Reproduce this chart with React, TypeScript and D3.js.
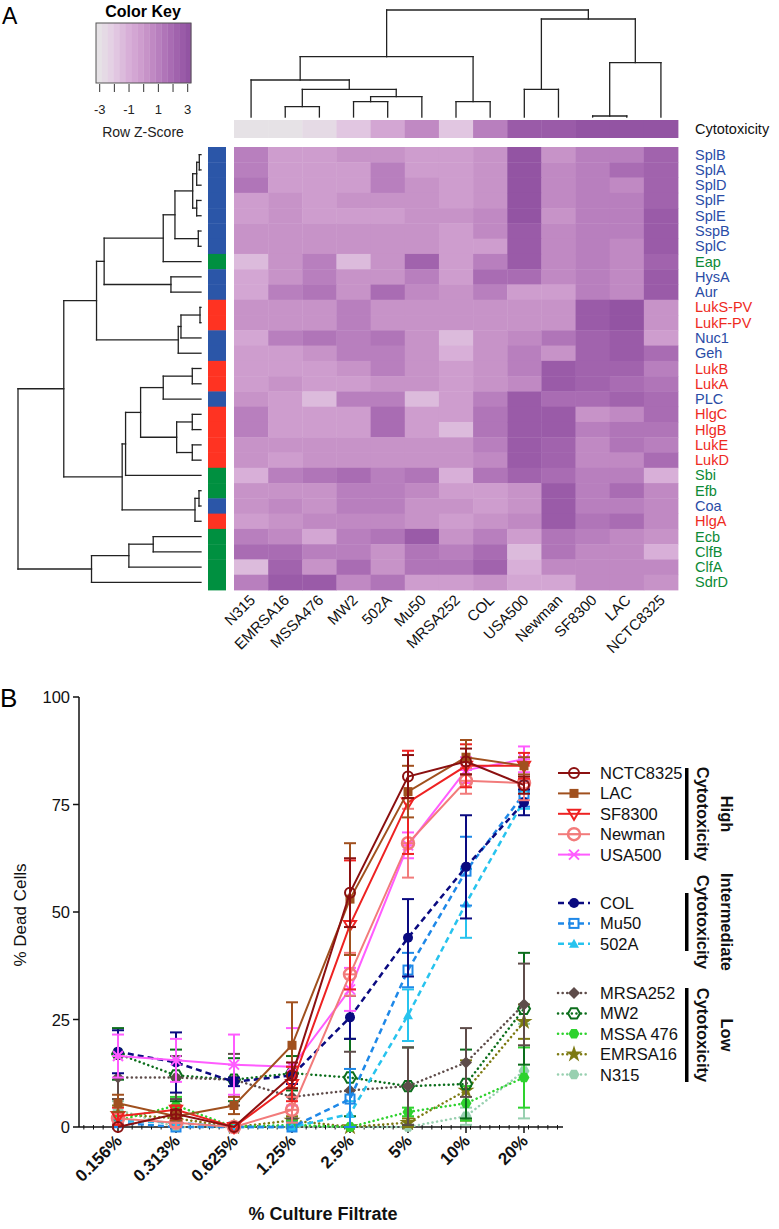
import { useEffect, useRef } from "react";
import * as d3 from "d3";

const FONT = "'Liberation Sans', Arial, sans-serif";

// ---------- Panel A data ----------
const STRAINS = ["N315", "EMRSA16", "MSSA476", "MW2", "502A", "Mu50", "MRSA252", "COL", "USA500", "Newman", "SF8300", "LAC", "NCTC8325"];
const CYTOTOXICITY = [-3, -3, -2.6, -1.7, -0.4, 0.4, -1.7, 1.0, 2.4, 2.4, 2.8, 2.8, 2.8];

const GENES = ["SplB", "SplA", "SplD", "SplF", "SplE", "SspB", "SplC", "Eap", "HysA", "Aur", "LukS-PV", "LukF-PV", "Nuc1", "Geh", "LukB", "LukA", "PLC", "HlgC", "HlgB", "LukE", "LukD", "Sbi", "Efb", "Coa", "HlgA", "Ecb", "ClfB", "ClfA", "SdrD"];
// b = enzyme (blue), r = toxin (red), g = immune/adhesion (green)
const GENE_CLASS = ["b", "b", "b", "b", "b", "b", "b", "g", "b", "b", "r", "r", "b", "b", "r", "r", "b", "r", "r", "r", "r", "g", "g", "b", "r", "g", "g", "g", "g"];

const Z_SCORES = [
  [0.8, -0.3, -0.3, 0.2, 0.2, -0.3, -0.3, 0.3, 2.8, 0.3, 1, 1, 2.2],
  [0.8, -0.3, -0.3, -0.3, 0.8, -0.3, -0.3, 0.3, 2.8, 0.7, 1, 1.6, 2.2],
  [1.3, -0.3, -0.3, -0.3, 0.8, 0.2, -0.3, 0.3, 2.8, 0.7, 1, 0.4, 2.2],
  [-0.3, 0.2, -0.3, 0.2, 0.2, 0.2, -0.3, 0.3, 2.8, 0.7, 1, 1, 2],
  [-0.3, 0.2, -0.3, -0.3, -0.3, 0.2, 0.3, 0.6, 2.8, 0.3, 1, 1, 2.6],
  [0.2, 0.2, 0.2, 0.2, 0.2, 0.2, -0.3, 0.6, 2.4, 0.5, 0.8, 0.8, 2.6],
  [0.2, 0.2, 0.2, 0.2, 0.2, 0.2, -0.3, -0.1, 2.6, 0.5, 1, 0.7, 2.6],
  [-1.3, 0.3, 1, -1.2, 0.3, 2, -0.3, 1, 2.6, 0.7, 1, 0.7, 2],
  [-0.4, 0, 1, 0.3, 0, 1, -0.3, 1.8, 1.5, 0.5, 1, 0.7, 2.6],
  [-0.4, 1, 1.2, 0.3, 1.8, 0.5, 0.3, 1, -0.3, -0.3, 0.8, 0.7, 2.6],
  [0.3, 0.3, 0.3, 0.8, 0.3, 0.3, 0.3, 0.3, 0.3, 0.3, 2.6, 2.8, 0.3],
  [0.3, 0.3, 0.3, 0.8, 0.3, 0.3, 0.3, 0.3, 0.3, 0.3, 2.6, 2.8, 0.3],
  [-0.4, 0.9, 1.3, 0.9, 1.2, 0.3, -1.3, 0.3, 0.5, 1.2, 2.2, 2.6, -0.3],
  [-0.3, -0.3, 0.3, 0.9, 0.9, 0.3, -0.8, 0, 1, 0.3, 2.2, 2.4, 1.5],
  [-0.3, -0.3, -0.3, 0.3, 0.9, 0.3, -0.3, 0.3, 1, 2.6, 2, 2, 1],
  [-0.3, 0.3, -0.3, -0.3, 0.3, 0.3, -0.3, 0.3, 0.7, 2.6, 2, 1.8, 1.2],
  [0.3, -0.3, -1.2, 0.9, 0.9, -1.2, -0.3, 1, 2.6, 1.8, 1.8, 2.2, 1.5],
  [1, -0.3, -0.3, -0.3, 1.5, -0.3, -0.3, 1.2, 2.6, 2.4, 0, 0.4, 1.8],
  [1, -0.3, -0.3, -0.3, 1.5, -0.3, -1.2, 1.2, 2.6, 2.4, 1, 1.4, 1.4],
  [0.3, 0.3, 0.3, 0.3, 0.3, 0.3, 0.3, 1, 2.6, 2, 0.7, 1.2, 1],
  [0.3, -0.3, 0.3, 0.3, 0.3, 0.3, 0.3, 0.5, 2.6, 2, 0.7, 0.7, 1.6],
  [-1, 0.9, 1.3, 1.7, 0.8, 1.2, -1, 1.4, 2.2, 1.8, 0.8, 1, -0.8],
  [0.3, 0.3, 0.3, 0.8, 0.8, 0.6, -0.3, -0.2, 0, 2.6, 1, 1.5, 0.5],
  [0.3, 0.6, 0.3, 0.8, 0.8, 0.3, 0.3, -0.2, 0, 2.6, 1, 1, 0.5],
  [-0.2, 0.3, 0.6, 0.6, 0.6, 0.3, -0.3, 0.3, 0.5, 2.6, 1.2, 1.8, 0.6],
  [1, 0.5, -0.5, 1, 1.3, 2.5, 0.3, 0.8, -0.3, 1.3, 1, 0.6, 0.3],
  [1.8, 1.5, 1, 1, 0.3, 1.4, 1, 1.5, -1.3, 1.2, 0.5, 0.5, -0.8],
  [-1.3, 2, 0.2, 1.8, 0.3, 1.3, 1.3, 2, -0.8, 0.6, 0.6, 0.6, 0.6],
  [1, 2.4, 2.4, 0.6, 1.2, -0.3, -0.3, 0.3, -0.4, -0.4, 0.5, 0.5, 0.3],
];

// dendrograms: [height, left, right], leaves are indices
const COL_TREE = [107,
  [60.3, [37, 0, [27.7, [10.3, 1, 2], [20.3, [15.3, 3, 4], 5]]], [15.3, 6, 7]],
  [98, [27.7, 8, 9], [54.3, [1, 10, 11], 12]]];

const ROW_TREE = [182.7,
  [137,
    [104.3,
      [96.7,
        [37.7, [26, [8.3, [4.3, [1.7, 0, 1], 2], [4.3, 3, 4]], [2.7, 5, 6]], 7],
        [30, 8, 9]],
      [22.7, [20, [1, 10, 11], 12], 13]],
    [78.7,
      [75.3, [60.3, [37.7, [8.7, 14, 15], 16], [24.3, [8.7, 17, 18], [8.7, 19, 20]]], 21],
      [6, [2, 22, 23], 24]]],
  [109.3, [72, [47.7, 25, 26], 27], 28]];

const KEY_TICKS = [-3, -2, -1, 0, 1, 2, 3];
const KEY_LABELS = [-3, -1, 1, 3];

// ---------- Panel B data ----------
const CONC = ["0.156%", "0.313%", "0.625%", "1.25%", "2.5%", "5%", "10%", "20%"];
const Y_TICKS = [0, 25, 50, 75, 100];

const NCTC8325_MEAN = [0, 3, 0, 12, 54.5, 81.5, 85, 79.5];
const NCTC8325_ERR = [0, 1, 0, 3, 8, 5, 3, 2];
const LAC_MEAN = [5.5, 2.5, 5, 19, 53, 78, 86, 84];
const LAC_ERR = [2, 1, 2, 10, 13, 6, 4, 2];
const SF8300_MEAN = [2.5, 4, 0, 10, 47, 75.5, 84, 84];
const SF8300_ERR = [2, 1, 0, 4, 15, 12, 5, 3];
const NEWMAN_MEAN = [2, 1, 0, 4, 35.5, 66, 80.5, 80];
const NEWMAN_ERR = [1, 1, 0, 3, 5, 8, 3, 4];
const USA500_MEAN = [16.5, 15.5, 14.5, 14, 32, 65.5, 83, 85.5];
const USA500_ERR = [5, 5, 7, 9, 5, 3, 3, 3];
const COL_MEAN = [17.5, 15, 10.5, 12, 25.5, 44, 60.5, 75.5];
const COL_ERR = [5, 7, 1, 2, 5, 9, 12, 3];
const MU50_MEAN = [1, 0, 0, 0, 6.5, 36.5, 59.5, 77.5];
const MU50_ERR = [2, 1, 0, 0, 7, 4, 8, 3];
const A502_MEAN = [1.5, 1, 0, 0, 3, 26, 52, 76];
const A502_ERR = [2, 1, 0, 0, 3, 6, 8, 2];
const MRSA252_MEAN = [11.5, 11.5, 11, 7, 8.5, 9.5, 15, 28.5];
const MRSA252_ERR = [5, 5, 6, 5, 9, 9, 8, 9.5];
const MW2_MEAN = [17, 12, 11, 12.5, 11.5, 9.5, 10, 27.5];
const MW2_ERR = [6, 6, 5, 4, 9, 9, 8, 13];
const MSSA476_MEAN = [1.5, 5, 0, 0.5, 0, 3.5, 5.5, 11.5];
const MSSA476_ERR = [1, 2, 0, 1, 0, 1, 4, 7];
const EMRSA16_MEAN = [3, 2, 0, 1.5, 0, 1, 8.5, 24.5];
const EMRSA16_ERR = [2, 2, 0, 1, 0, 1, 7, 4];
const N315_MEAN = [4, 0, 0, 0, 0, 0, 2.5, 13];
const N315_ERR = [2, 0, 0, 0, 0, 0, 2, 11];

const SERIES = [
  { name: "NCTC8325", mean: NCTC8325_MEAN, err: NCTC8325_ERR, color: "#8b1010", style: "solid", marker: "circleOpen" },
  { name: "LAC", mean: LAC_MEAN, err: LAC_ERR, color: "#a0501e", style: "solid", marker: "square" },
  { name: "SF8300", mean: SF8300_MEAN, err: SF8300_ERR, color: "#ee2222", style: "solid", marker: "triDownOpen" },
  { name: "Newman", mean: NEWMAN_MEAN, err: NEWMAN_ERR, color: "#f27b7b", style: "solid", marker: "circleBar" },
  { name: "USA500", mean: USA500_MEAN, err: USA500_ERR, color: "#ff5cff", style: "solid", marker: "asterisk" },
  { name: "COL", mean: COL_MEAN, err: COL_ERR, color: "#0a0a80", style: "dashed", marker: "circle" },
  { name: "Mu50", mean: MU50_MEAN, err: MU50_ERR, color: "#1e88e8", style: "dashed", marker: "squareOpen" },
  { name: "502A", mean: A502_MEAN, err: A502_ERR, color: "#27c3ee", style: "dashed", marker: "triUp" },
  { name: "MRSA252", mean: MRSA252_MEAN, err: MRSA252_ERR, color: "#5e4c4a", style: "dotted", marker: "diamond" },
  { name: "MW2", mean: MW2_MEAN, err: MW2_ERR, color: "#0c6e1c", style: "dotted", marker: "hexOpen" },
  { name: "MSSA 476", mean: MSSA476_MEAN, err: MSSA476_ERR, color: "#2ed22e", style: "dotted", marker: "hex" },
  { name: "EMRSA16", mean: EMRSA16_MEAN, err: EMRSA16_ERR, color: "#7d7a12", style: "dotted", marker: "star" },
  { name: "N315", mean: N315_MEAN, err: N315_ERR, color: "#98d0b0", style: "dotted", marker: "hex" },
];

const GROUPS = [
  { label: "High", members: ["NCTC8325", "LAC", "SF8300", "Newman", "USA500"], top: 773, barTop: 768, barBottom: 860 },
  { label: "Intermediate", members: ["COL", "Mu50", "502A"], top: 903, barTop: 893, barBottom: 951 },
  { label: "Low", members: ["MRSA252", "MW2", "MSSA 476", "EMRSA16", "N315"], top: 993, barTop: 988, barBottom: 1082 },
];

const CLASS_SIDE = { b: "#2b56a8", r: "#ff3322", g: "#009040" };
const CLASS_TEXT = { b: "#2a4ca6", r: "#ee2a1e", g: "#0c8a36" };

function treeSegments(tree, leafPos) {
  const segs = [];
  function walk(n) {
    if (typeof n === "number") return { p: leafPos(n), h: 0 };
    const [h, a, b] = n;
    const A = walk(a);
    const B = walk(b);
    segs.push([A.p, A.h, A.p, h], [B.p, B.h, B.p, h], [A.p, h, B.p, h]);
    return { p: (A.p + B.p) / 2, h };
  }
  walk(tree);
  return segs;
}

function hexPath(r) {
  const pts = d3.range(6).map((i) => {
    const a = (Math.PI / 3) * i;
    return [r * Math.cos(a), r * Math.sin(a)];
  });
  return "M" + pts.map((p) => p.join(",")).join("L") + "Z";
}

function drawMarker(g, type, x, y, color) {
  const m = g.append("g").attr("transform", `translate(${x},${y})`);
  const open = (sel) => sel.attr("fill", "none").attr("stroke", color).attr("stroke-width", 2);
  const filled = (sel) => sel.attr("fill", color).attr("stroke", "none");
  switch (type) {
    case "circleOpen": open(m.append("circle").attr("r", 5)); break;
    case "circle": filled(m.append("circle").attr("r", 5)); break;
    case "square": filled(m.append("rect").attr("x", -4.5).attr("y", -4.5).attr("width", 9).attr("height", 9)); break;
    case "squareOpen": open(m.append("rect").attr("x", -4.5).attr("y", -4.5).attr("width", 9).attr("height", 9)); break;
    case "triDownOpen": open(m.append("path").attr("d", "M-6,-4L6,-4L0,6Z")); break;
    case "triUp": filled(m.append("path").attr("d", "M-5,4L5,4L0,-5Z")); break;
    case "diamond": filled(m.append("path").attr("d", "M0,-6L6,0L0,6L-6,0Z")); break;
    case "hexOpen": open(m.append("path").attr("d", hexPath(6))); break;
    case "hex": filled(m.append("path").attr("d", hexPath(5.5))); break;
    case "star": filled(m.append("path").attr("d", d3.symbol(d3.symbolStar, 90)())); break;
    case "circleBar":
      m.append("circle").attr("r", 6).attr("fill", "none").attr("stroke", color).attr("stroke-width", 2.5);
      m.append("line").attr("x1", -6).attr("x2", 6).attr("stroke", color).attr("stroke-width", 2);
      break;
    case "asterisk":
      m.append("path").attr("d", "M-5,-5L5,5M-5,5L5,-5M-6,0L6,0").attr("stroke", color).attr("stroke-width", 2);
      break;
    default: break;
  }
}

function dashFor(style) {
  if (style === "dashed") return "6,4";
  if (style === "dotted") return "0.1,4.5";
  return null;
}

export default function App() {
  const ref = useRef(null);

  useEffect(() => {
    const svg = d3.select(ref.current);
    svg.selectAll("*").remove();
    svg.attr("font-family", FONT);

    // ===== Panel A =====
    const x = d3.scaleBand(STRAINS, [234, 678]);
    const y = d3.scaleBand(GENES, [147, 590]);
    const ramp = d3.scaleLinear()
      .domain([-3, -2, -1, 0, 1, 2, 3])
      .range(["#e6e6e6", "#e4d0e4", "#d9b1d9", "#cb98cb", "#b77dbd", "#a264ae", "#9050a0"])
      .clamp(true);
    const binW = 6 / 16;
    const color = (v) => ramp(-3 + (Math.min(15, Math.floor((v + 3) / binW)) + 0.5) * binW);

    svg.append("text").attr("x", 2).attr("y", 24).attr("font-size", 23).text("A");

    // color key
    const keyFill = d3.scaleLinear([-3, 3], [96, 191]);
    const keyTick = d3.scaleLinear([-3, 3], [99.7, 187.7]);
    const key = svg.append("g");
    key.append("text").attr("x", 143).attr("y", 17).attr("text-anchor", "middle")
      .attr("font-size", 16).attr("font-weight", 700).text("Color Key");
    d3.range(16).forEach((i) => {
      const v0 = -3 + i * binW;
      key.append("rect").attr("x", keyFill(v0)).attr("y", 23)
        .attr("width", keyFill(v0 + binW) - keyFill(v0) + 0.3).attr("height", 60)
        .attr("fill", color(v0 + binW / 2));
    });
    key.append("rect").attr("x", 96).attr("y", 23).attr("width", 95).attr("height", 60)
      .attr("fill", "none").attr("stroke", "#555").attr("stroke-width", 1);
    KEY_TICKS.forEach((t) => {
      key.append("line").attr("x1", keyTick(t)).attr("x2", keyTick(t)).attr("y1", 84).attr("y2", 92)
        .attr("stroke", "#333").attr("stroke-width", 1);
    });
    KEY_LABELS.forEach((t) => {
      key.append("text").attr("x", keyTick(t)).attr("y", 114).attr("text-anchor", "middle")
        .attr("font-size", 13).attr("fill", "#222").text(t);
    });
    key.append("text").attr("x", 143).attr("y", 137).attr("text-anchor", "middle")
      .attr("font-size", 14).attr("fill", "#222").text("Row Z-Score");

    // column dendrogram
    const colH = d3.scaleLinear([0, 107], [117, 10]);
    const colSegs = treeSegments(COL_TREE, (i) => x(STRAINS[i]) + x.bandwidth() / 2);
    svg.append("g").selectAll("line").data(colSegs).join("line")
      .attr("x1", (d) => d[0]).attr("y1", (d) => colH(d[1]))
      .attr("x2", (d) => d[2]).attr("y2", (d) => colH(d[3]))
      .attr("stroke", "#222").attr("stroke-width", 1.3).attr("stroke-linecap", "square");

    // row dendrogram
    const rowH = d3.scaleLinear([0, 182.7], [201, 18]);
    const rowSegs = treeSegments(ROW_TREE, (i) => y(GENES[i]) + y.bandwidth() / 2);
    svg.append("g").selectAll("line").data(rowSegs).join("line")
      .attr("x1", (d) => rowH(d[1])).attr("y1", (d) => d[0])
      .attr("x2", (d) => rowH(d[3])).attr("y2", (d) => d[2])
      .attr("stroke", "#222").attr("stroke-width", 1.3).attr("stroke-linecap", "square");

    // cytotoxicity bar
    svg.append("g").selectAll("rect").data(STRAINS).join("rect")
      .attr("x", (s) => x(s)).attr("y", 120).attr("width", x.bandwidth() + 0.4).attr("height", 18)
      .attr("fill", (s, i) => color(CYTOTOXICITY[i]));
    svg.append("text").attr("x", 695).attr("y", 134).attr("font-size", 14.5).attr("fill", "#111").text("Cytotoxicity");

    // heatmap cells
    const cells = svg.append("g");
    GENES.forEach((gname, r) => {
      STRAINS.forEach((s, c) => {
        cells.append("rect").attr("x", x(s)).attr("y", y(gname))
          .attr("width", x.bandwidth() + 0.4).attr("height", y.bandwidth() + 0.4)
          .attr("fill", color(Z_SCORES[r][c]));
      });
    });

    // side colors + labels
    svg.append("g").selectAll("rect").data(GENES).join("rect")
      .attr("x", 208).attr("y", (gname) => y(gname)).attr("width", 18).attr("height", y.bandwidth() + 0.4)
      .attr("fill", (gname, i) => CLASS_SIDE[GENE_CLASS[i]]);
    svg.append("g").selectAll("text").data(GENES).join("text")
      .attr("x", 695).attr("y", (gname) => y(gname) + y.bandwidth() / 2 + 5)
      .attr("font-size", 14.5).attr("fill", (gname, i) => CLASS_TEXT[GENE_CLASS[i]])
      .text((gname) => gname);

    svg.append("g").selectAll("text").data(STRAINS).join("text")
      .attr("transform", (s) => `translate(${x(s) + x.bandwidth() / 2 + 5},${601}) rotate(-45)`)
      .attr("text-anchor", "end").attr("font-size", 15).attr("fill", "#111")
      .text((s) => s);

    // ===== Panel B =====
    const xb = d3.scalePoint(CONC, [118, 524]);
    const yb = d3.scaleLinear([0, 100], [1127, 697]);
    const B = svg.append("g");

    B.append("text").attr("x", 0).attr("y", 707).attr("font-size", 26).text("B");

    // y axis
    B.append("line").attr("x1", 79).attr("x2", 79).attr("y1", yb(100)).attr("y2", yb(0))
      .attr("stroke", "#111").attr("stroke-width", 1.5);
    Y_TICKS.forEach((t) => {
      B.append("line").attr("x1", 73).attr("x2", 79).attr("y1", yb(t)).attr("y2", yb(t))
        .attr("stroke", "#111").attr("stroke-width", 1.5);
      B.append("text").attr("x", 70).attr("y", yb(t) + 6).attr("text-anchor", "end")
        .attr("font-size", 16.5).attr("fill", "#111").text(t);
    });
    B.append("text").attr("transform", `translate(26,${915}) rotate(-90)`)
      .attr("text-anchor", "middle").attr("font-size", 17).attr("fill", "#111").text("% Dead Cells");

    // x axis
    B.append("line").attr("x1", 79).attr("x2", 563).attr("y1", yb(0)).attr("y2", yb(0))
      .attr("stroke", "#111").attr("stroke-width", 1.5);
    const step = xb.step() / 6;
    d3.range(79 + step / 2, 563, step).forEach((mx) => {
      B.append("line").attr("x1", mx).attr("x2", mx).attr("y1", yb(0) - 2).attr("y2", yb(0) + 2.5)
        .attr("stroke", "#111").attr("stroke-width", 1);
    });
    CONC.forEach((c) => {
      B.append("line").attr("x1", xb(c)).attr("x2", xb(c)).attr("y1", yb(0)).attr("y2", yb(0) + 6)
        .attr("stroke", "#111").attr("stroke-width", 1.5);
      B.append("text").attr("transform", `translate(${xb(c) + 5},${1142}) rotate(-45)`)
        .attr("text-anchor", "end").attr("font-size", 17).attr("font-weight", 700).attr("fill", "#111").text(c);
    });
    B.append("text").attr("x", 323).attr("y", 1220).attr("text-anchor", "middle")
      .attr("font-size", 18).attr("font-weight", 700).attr("fill", "#111").text("% Culture Filtrate");

    // series (low first so high cytotoxicity lies on top)
    const line = d3.line().x((d) => d[0]).y((d) => d[1]);
    SERIES.slice().reverse().forEach((s) => {
      const g = B.append("g");
      const pts = s.mean.map((v, i) => [xb(CONC[i]), yb(v)]);
      g.append("path").attr("d", line(pts)).attr("fill", "none").attr("stroke", s.color)
        .attr("stroke-width", s.style === "solid" ? 2 : 2.5)
        .attr("stroke-dasharray", dashFor(s.style))
        .attr("stroke-linecap", s.style === "dotted" ? "round" : "butt");
      s.mean.forEach((v, i) => {
        if (!s.err[i]) return;
        const cx = xb(CONC[i]);
        const lo = yb(Math.max(0, v - s.err[i]));
        const hi = yb(Math.min(100, v + s.err[i]));
        g.append("line").attr("x1", cx).attr("x2", cx).attr("y1", lo).attr("y2", hi)
          .attr("stroke", s.color).attr("stroke-width", 2);
        [lo, hi].forEach((yy) => {
          g.append("line").attr("x1", cx - 6).attr("x2", cx + 6).attr("y1", yy).attr("y2", yy)
            .attr("stroke", s.color).attr("stroke-width", 2);
        });
      });
      pts.forEach((p) => drawMarker(g, s.marker, p[0], p[1], s.color));
    });

    // legend
    const legend = B.append("g");
    GROUPS.forEach((grp) => {
      grp.members.forEach((name, i) => {
        const s = SERIES.find((d) => d.name === name);
        const ly = grp.top + i * 20.4;
        legend.append("line").attr("x1", 558).attr("x2", 590).attr("y1", ly).attr("y2", ly)
          .attr("stroke", s.color).attr("stroke-width", s.style === "solid" ? 2 : 2.5)
          .attr("stroke-dasharray", dashFor(s.style))
          .attr("stroke-linecap", s.style === "dotted" ? "round" : "butt");
        drawMarker(legend, s.marker, 574, ly, s.color);
        legend.append("text").attr("x", 600).attr("y", ly + 6).attr("font-size", 16.5)
          .attr("fill", "#111").text(name);
      });
      const mid = (grp.barTop + grp.barBottom) / 2;
      legend.append("rect").attr("x", 685).attr("y", grp.barTop).attr("width", 3.5)
        .attr("height", grp.barBottom - grp.barTop).attr("fill", "#000");
      legend.append("text").attr("transform", `translate(697,${mid}) rotate(90)`)
        .attr("text-anchor", "middle").attr("font-size", 16.5).attr("font-weight", 700).attr("fill", "#111")
        .text("Cytotoxicity");
      legend.append("text").attr("transform", `translate(721,${mid}) rotate(90)`)
        .attr("text-anchor", "middle").attr("font-size", 16.5).attr("font-weight", 700).attr("fill", "#111")
        .text(grp.label);
    });
  }, []);

  return (
    <svg ref={ref} width={779} height={1229}
      style={{ position: "absolute", left: 0, top: 0, background: "#fff" }} />
  );
}
